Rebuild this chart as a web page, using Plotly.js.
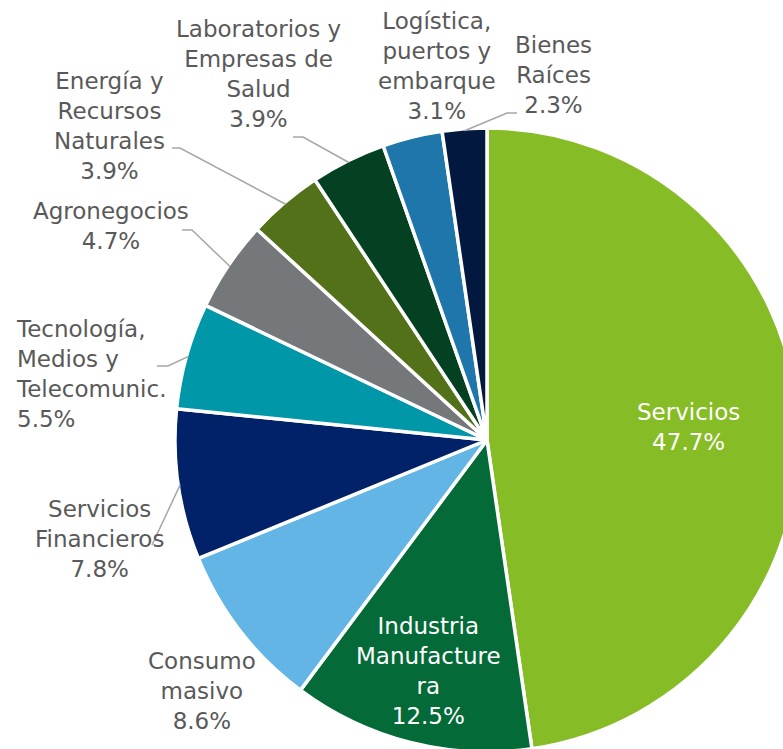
<!DOCTYPE html>
<html>
<head>
<meta charset="utf-8">
<script src="https://cdn.plot.ly/plotly-3.0.1.min.js"></script>
<style>
  html, body { margin: 0; padding: 0; overflow: hidden; background: #fff; }
  #myDiv { width: 800px; height: 760px; }
</style>
</head>
<body>
<div id="myDiv"></div>
<script>
// sectores y participación (%)
var sectors = ['Servicios', 'Industria Manufacturera', 'Consumo masivo', 'Servicios Financieros',
               'Tecnología, Medios y Telecomunic.', 'Agronegocios', 'Energía y Recursos Naturales',
               'Laboratorios y Empresas de Salud', 'Logística, puertos y embarque', 'Bienes Raíces'];
var labelLines = ['Servicios', 'Industria<br>Manufacture<br>ra', 'Consumo<br>masivo', 'Servicios<br>Financieros',
                  'Tecnología,<br>Medios y<br>Telecomunic.', 'Agronegocios', 'Energía y<br>Recursos<br>Naturales',
                  'Laboratorios y<br>Empresas de<br>Salud', 'Logística,<br>puertos y<br>embarque', 'Bienes<br>Raíces'];
var shares = [47.7, 12.5, 8.6, 7.8, 5.5, 4.7, 3.9, 3.9, 3.1, 2.3];

var sliceColors = ['#86BC25', '#046A38', '#62B5E5', '#012169', '#0097A9',
                   '#75787B', '#527118', '#044122', '#1F76AB', '#02183F'];

// plot area in px (pie is bigger than the window, cut at right/bottom)
var W = 800, H = 760;
var m = {l: 175, r: 1, t: 128, b: 8};
var pw = W - m.l - m.r, ph = H - m.t - m.b;
var cx = m.l + pw / 2, cy = m.t + ph / 2, R = Math.min(pw, ph) / 2;

function px2x(px) { return (px - m.l) / pw; }
function py2y(py) { return 1 - (py - m.t) / ph; }

// label placement: [center x px, center y px, anchor, text color]
var labelPos = [
  [688, 427, 'center', '#FFFFFF'],
  [428, 671, 'center', '#FFFFFF'],
  [202, 691, 'center', '#595959'],
  [99, 539, 'center', '#595959'],
  [14, 374, 'left', '#595959'],
  [111, 226, 'center', '#595959'],
  [109, 126, 'center', '#595959'],
  [258, 74, 'center', '#595959'],
  [437, 66, 'center', '#595959'],
  [553, 75, 'center', '#595959']
];
// leader line bend/end points (px), null = no line
var leaderPts = [
  null, null, null,
  [[152, 545]],
  [[168, 366], [157, 366]],
  [[192, 230], [182, 230]],
  [[180, 148], [172, 148]],
  [[303, 137], [293, 137]],
  null,
  [[507, 113], [517, 113]]
];

var annotations = [], shapes = [];
var total = shares.reduce(function(a, b) { return a + b; }, 0);
var cum = 0;
for (var i = 0; i < shares.length; i++) {
  var mid = (cum + shares[i] / 2) / total * 2 * Math.PI;
  cum += shares[i];
  var p = labelPos[i];
  annotations.push({
    xref: 'paper', yref: 'paper', x: px2x(p[0]), y: py2y(p[1]),
    xanchor: p[2], yanchor: 'middle', align: p[2],
    text: labelLines[i] + '<br>' + shares[i].toFixed(1) + '%',
    showarrow: false,
    font: {family: 'Verdana, "DejaVu Sans", sans-serif', size: 23, color: p[3]}
  });
  if (leaderPts[i]) {
    var ex = cx + (R - 2) * Math.sin(mid), ey = cy - (R - 2) * Math.cos(mid);
    var d = 'M' + px2x(ex) + ',' + py2y(ey);
    leaderPts[i].forEach(function(q) { d += ' L' + px2x(q[0]) + ',' + py2y(q[1]); });
    shapes.push({type: 'path', xref: 'paper', yref: 'paper', path: d,
                 line: {color: '#A6A6A6', width: 1.5}});
  }
}

var data = [{
  type: 'pie',
  labels: sectors,
  values: shares,
  sort: false,
  direction: 'clockwise',
  rotation: 0,
  textinfo: 'none',
  hoverinfo: 'label+percent',
  marker: {colors: sliceColors, line: {color: '#FFFFFF', width: 3.5}}
}];

var layout = {
  width: W, height: H,
  margin: m,
  showlegend: false,
  paper_bgcolor: '#FFFFFF',
  annotations: annotations,
  shapes: shapes
};

Plotly.newPlot('myDiv', data, layout, {displayModeBar: false, staticPlot: true});
</script>
</body>
</html>
